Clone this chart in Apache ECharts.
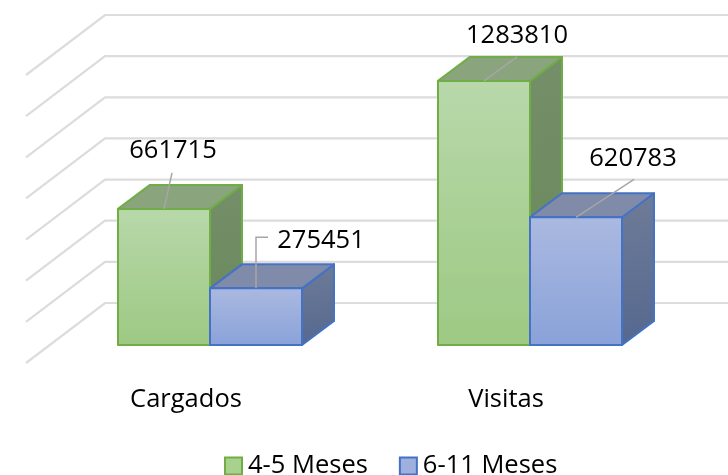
<!DOCTYPE html>
<html>
<head>
<meta charset="utf-8">
<style>
html, body { margin: 0; padding: 0; background: #fff; }
#chart { width: 728px; height: 475px; }
</style>
<script src="https://cdn.jsdelivr.net/npm/echarts@6/dist/echarts.min.js"></script>
</head>
<body>
<div id="chart"></div>
<script>
var categories = ['Cargados', 'Visitas']
var seriesNames = ['4-5 Meses', '6-11 Meses']
var meses45 = [661715, 1283810]
var meses611 = [275451, 620783]
var yTicks = [0, 200000, 400000, 600000, 800000, 1000000, 1200000, 1400000]

var fontName = 'Open Sans'
var fontSize = 25.5

// pseudo 3D: how far bar front, bar back and back wall sit behind the front edge of the floor
var frontDepth = [24, -18]
var backDepth = [56, -42]
var wallDepth = [79, -60]

// label position and leader line, relative to the top centre of the bar front
var labelOffsets45 = [
    { text: [9, -58], line: [[0, 0], [8, -36]] },
    { text: [33, -45], line: [[0, 0], [33, -24]] }
]
var labelOffsets611 = [
    { text: [65, -48], line: [[0, 0], [0, -51], [12, -51]] },
    { text: [57, -59], line: [[0, 0], [58, -38]] }
]

function grad(x2, y2, from, to) {
    return new echarts.graphic.LinearGradient(0, 0, x2, y2, [
        { offset: 0, color: from },
        { offset: 1, color: to }
    ])
}

var green = {
    border: '#70ad47',
    front: ['#b8d8aa', '#9dc983'],
    top: '#8aa57e',
    side: ['#758f69', '#68875a']
}
var blue = {
    border: '#4472c4',
    front: ['#aab9e0', '#8aa2d9'],
    top: '#808ba9',
    side: ['#6f7c98', '#55688f']
}

function renderGridLine(params, api) {
    var cs = params.coordSys
    var y = api.coord([0, api.value(0)])[1]
    return {
        type: 'polyline',
        silent: true,
        shape: {
            points: [
                [cs.x, y],
                [cs.x + wallDepth[0], y + wallDepth[1]],
                [cs.x + cs.width + wallDepth[0], y + wallDepth[1]]
            ]
        },
        style: { stroke: '#dcdcdc', lineWidth: 2.2, fill: null }
    }
}

function makeBarRenderer(side, colors, labelOffsets) {
    return function(params, api) {
        var base = api.coord([api.value(0), 0])
        var topPt = api.coord([api.value(0), api.value(1)])
        var w = api.size([1, 0])[0] * 0.2875
        var x0 = base[0] + frontDepth[0] + (side < 0 ? -w : 0)
        var x1 = x0 + w
        var y0 = base[1] + frontDepth[1]
        var y1 = topPt[1] + frontDepth[1]
        var dx = backDepth[0] - frontDepth[0]
        var dy = backDepth[1] - frontDepth[1]
        var edge = { stroke: colors.border, lineWidth: 2, lineJoin: 'round' }
        var off = labelOffsets[params.dataIndex]
        var cx = (x0 + x1) / 2
        return {
            type: 'group',
            children: [
                {
                    type: 'polygon',
                    shape: { points: [[x1, y0], [x1 + dx, y0 + dy], [x1 + dx, y1 + dy], [x1, y1]] },
                    style: Object.assign({ fill: grad(0.4, 1, colors.side[0], colors.side[1]) }, edge)
                },
                {
                    type: 'polygon',
                    shape: { points: [[x0, y1], [x0 + dx, y1 + dy], [x1 + dx, y1 + dy], [x1, y1]] },
                    style: Object.assign({ fill: colors.top }, edge)
                },
                {
                    type: 'rect',
                    shape: { x: x0, y: y1, width: w, height: y0 - y1 },
                    style: Object.assign({ fill: grad(0, 1, colors.front[0], colors.front[1]) }, edge)
                },
                {
                    type: 'polyline',
                    shape: { points: off.line.map(function(p) { return [cx + p[0], y1 + p[1]] }) },
                    style: { stroke: '#a6a6a6', lineWidth: 1.5, fill: null }
                },
                {
                    type: 'text',
                    style: {
                        text: String(api.value(1)),
                        x: cx + off.text[0],
                        y: y1 + off.text[1],
                        textAlign: 'center',
                        textVerticalAlign: 'middle',
                        fontFamily: fontName,
                        fontSize: fontSize,
                        fill: '#000'
                    }
                }
            ]
        }
    }
}

var chart = echarts.init(document.getElementById('chart'))
var option = {
    animation: false,
    backgroundColor: '#fff',
    grid: { left: 26, top: 75, right: 62, bottom: 112 },
    legend: {
        left: 219,
        top: 448,
        itemWidth: 17,
        itemHeight: 17,
        itemGap: 31,
        textStyle: { fontFamily: fontName, fontSize: fontSize, color: '#000', padding: [0, 0, 0, 1] },
        data: [
            {
                name: seriesNames[0],
                icon: 'rect',
                itemStyle: { color: '#a9d18e', borderColor: green.border, borderWidth: 2 }
            },
            {
                name: seriesNames[1],
                icon: 'rect',
                itemStyle: { color: '#9db0de', borderColor: blue.border, borderWidth: 2 }
            }
        ]
    },
    xAxis: {
        type: 'category',
        data: categories,
        axisLine: { show: false },
        axisTick: { show: false },
        axisLabel: { margin: 24, fontFamily: fontName, fontSize: fontSize, color: '#000' }
    },
    yAxis: {
        type: 'value',
        min: 0,
        max: 1400000,
        interval: 200000,
        show: false
    },
    series: [
        {
            type: 'custom',
            name: 'grid',
            silent: true,
            clip: false,
            renderItem: renderGridLine,
            encode: { y: 0 },
            data: yTicks.map(function(v) { return [v] })
        },
        {
            type: 'custom',
            name: seriesNames[0],
            clip: false,
            renderItem: makeBarRenderer(-1, green, labelOffsets45),
            encode: { x: 0, y: 1 },
            data: meses45.map(function(v, i) { return [i, v] })
        },
        {
            type: 'custom',
            name: seriesNames[1],
            clip: false,
            renderItem: makeBarRenderer(1, blue, labelOffsets611),
            encode: { x: 0, y: 1 },
            data: meses611.map(function(v, i) { return [i, v] })
        }
    ]
}
chart.setOption(option)
</script>
</body>
</html>
